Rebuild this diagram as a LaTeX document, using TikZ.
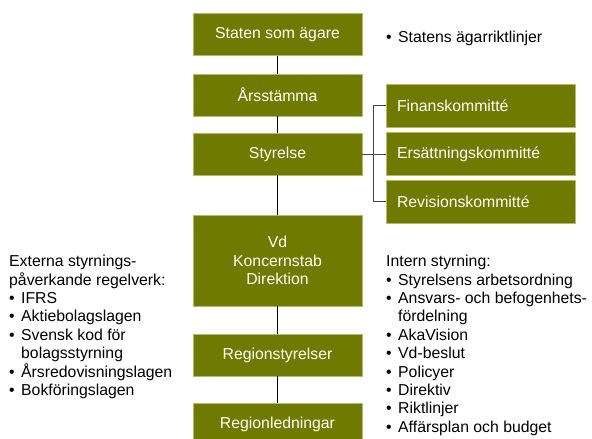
\documentclass[tikz,border=0pt]{standalone}
\usepackage{fontspec}
\setmainfont{Liberation Sans}
\definecolor{boxgreen}{RGB}{111,123,0}
\definecolor{boxedge}{RGB}{178,186,110}
\definecolor{comgray}{RGB}{70,70,70}
\newcommand\bul[1]{\makebox[12pt][l]{•}#1}
\begin{document}
\begin{tikzpicture}[x=1pt,y=-1pt,
  box/.style={fill=boxgreen, draw=boxedge, line width=0.7pt, text=white,
    font=\fontsize{15.8}{18.4}\selectfont, inner sep=0pt},
  mainbox/.style={box, minimum width=169pt, minimum height=42pt, align=center},
  combox/.style={box, minimum height=43pt, text width=167pt, inner xsep=11pt, align=left},
  mainline/.style={draw=black, line width=0.9pt},
  comline/.style={draw=comgray, line width=0.9pt},
  textblk/.style={font=\fontsize{15.8}{18.4}\selectfont, inner sep=0pt, align=left, text=black}
]
\useasboundingbox (0,0) rectangle (592,439);
% main column
\node[mainbox] (staten) at (277.5,34.5) {Staten som ägare};
\node[mainbox] (arsst) at (277.5,95) {Årsstämma};
\node[mainbox] (styr) at (277.5,154) {Styrelse};
\node[mainbox, minimum height=91pt] (vd) at (277.5,260.5) {Vd\\Koncernstab\\Direktion};
\node[mainbox] (regst) at (277.5,355) {Regionstyrelser};
\node[mainbox] (regled) at (277.5,424) {Regionledningar};
\draw[mainline] (staten) -- (arsst);
\draw[mainline] (arsst) -- (styr);
\draw[mainline] (styr) -- (vd);
\draw[mainline] (vd) -- (regst);
\draw[mainline] (regst) -- (regled);
% committees
\node[combox] (fin) at (480.5,105.5) {Finanskommitté};
\node[combox] (ers) at (480.5,154) {Ersättningskommitté};
\node[combox] (rev) at (480.5,201.5) {Revisionskommitté};
\coordinate (hub) at (373,154);
\draw[comline] (styr.east) -- (hub);
\draw[comline] (hub) |- (fin.west);
\draw[comline] (hub) -- (ers.west);
\draw[comline] (hub) |- (rev.west);
% texts
\node[textblk, anchor=base west] (agar) at (386,42) {\bul{Statens ägarriktlinjer}};
\node[textblk, anchor=north west] (ext) at (9,255) {Externa styrnings-\\påverkande regelverk:\\\bul{IFRS}\\\bul{Aktiebolagslagen}\\\bul{Svensk kod för}\\\hspace*{12pt}bolagsstyrning\\\bul{Årsredovisningslagen}\\\bul{Bokföringslagen}};
\node[textblk, anchor=north west] (intern) at (386,255) {Intern styrning:\\\bul{Styrelsens arbetsordning}\\\bul{Ansvars- och befogenhets-}\\\hspace*{12pt}fördelning\\\bul{AkaVision}\\\bul{Vd-beslut}\\\bul{Policyer}\\\bul{Direktiv}\\\bul{Riktlinjer}\\\bul{Affärsplan och budget}};
\end{tikzpicture}
\end{document}
